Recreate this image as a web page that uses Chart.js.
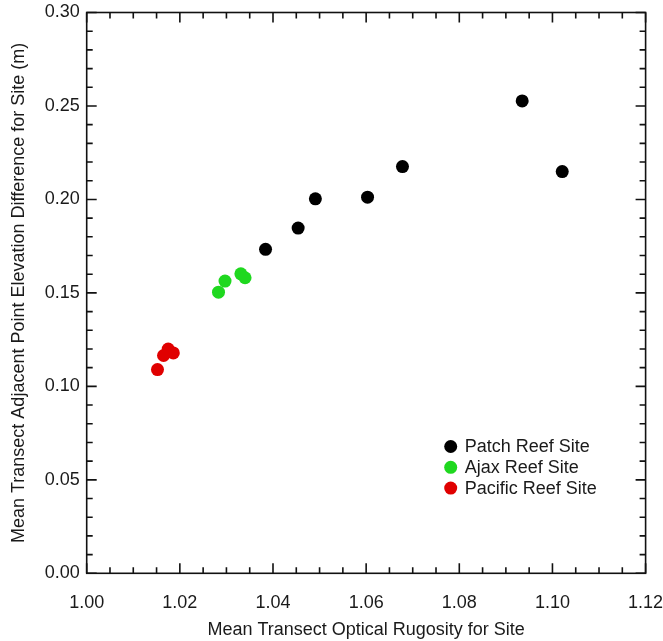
<!DOCTYPE html>
<html>
<head>
<meta charset="utf-8">
<script src="https://cdn.jsdelivr.net/npm/chart.js@4.4.1/dist/chart.umd.min.js"></script>
<style>
  html, body { margin: 0; padding: 0; background: #fff; }
  #wrap { width: 663px; height: 641px; }
</style>
</head>
<body>
<div id="wrap"><canvas id="chart" width="663" height="641"></canvas></div>
<script>
// values
const seriesNames = ["Patch Reef Site", "Ajax Reef Site", "Pacific Reef Site"];
const seriesColors = ["#000000", "#1fd81f", "#e00000"];

const patchX = [1.0384, 1.0454, 1.0491, 1.0603, 1.0678, 1.0935, 1.1021];
const patchY = [0.1733, 0.1847, 0.2003, 0.2012, 0.2176, 0.2527, 0.2149];

const ajaxX = [1.0283, 1.0297, 1.0331, 1.0340];
const ajaxY = [0.1504, 0.1563, 0.1602, 0.1581];

const pacificX = [1.0152, 1.0165, 1.0175, 1.0186];
const pacificY = [0.1090, 0.1165, 0.1200, 0.1179];

const xTicks = [1.00, 1.02, 1.04, 1.06, 1.08, 1.10, 1.12];
const yTicks = [0.00, 0.05, 0.10, 0.15, 0.20, 0.25, 0.30];

const FONT = "'Liberation Sans', Arial, Helvetica, sans-serif";

const toPoints = (xs, ys) => xs.map((x, i) => ({ x: x, y: ys[i] }));

const seriesData = [
    toPoints(patchX, patchY),
    toPoints(ajaxX, ajaxY),
    toPoints(pacificX, pacificY),
];

// box with inward ticks on all four sides, IDL style
const framePlugin = {
    id: "frame",
    afterDraw(chart) {
        const ctx = chart.ctx;
        const area = chart.chartArea;
        const xs = chart.scales.x;
        const ys = chart.scales.y;

        ctx.save();
        ctx.strokeStyle = "#111";
        ctx.lineWidth = 1.6;
        ctx.strokeRect(area.left, area.top, area.right - area.left, area.bottom - area.top);

        ctx.beginPath();
        // x: minor every 0.005, major every 0.02
        for (let i = 0; i <= 24; i++) {
            const v = xTicks[0] + i * 0.005;
            const px = xs.getPixelForValue(v);
            const len = (i % 4 === 0) ? 10 : 6;
            ctx.moveTo(px, area.bottom);
            ctx.lineTo(px, area.bottom - len);
            ctx.moveTo(px, area.top);
            ctx.lineTo(px, area.top + len);
        }
        // y: minor every 0.01, major every 0.05
        for (let i = 0; i <= 30; i++) {
            const v = i * 0.01;
            const py = ys.getPixelForValue(v);
            const len = (i % 5 === 0) ? 10 : 6;
            ctx.moveTo(area.left, py);
            ctx.lineTo(area.left + len, py);
            ctx.moveTo(area.right, py);
            ctx.lineTo(area.right - len, py);
        }
        ctx.stroke();
        ctx.restore();
    }
};

// legend drawn inside the plot, lower right
const legendPlugin = {
    id: "insideLegend",
    afterDraw(chart) {
        const ctx = chart.ctx;
        const area = chart.chartArea;
        const x0 = area.left + 364;
        const y0 = area.top + 434;
        ctx.save();
        ctx.font = "18px " + FONT;
        ctx.textBaseline = "middle";
        ctx.textAlign = "left";
        chart.data.datasets.forEach((ds, i) => {
            const y = y0 + i * 20.8;
            ctx.beginPath();
            ctx.arc(x0, y, 6.5, 0, Math.PI * 2);
            ctx.fillStyle = ds.backgroundColor;
            ctx.fill();
            ctx.fillStyle = "#1a1a1a";
            ctx.fillText(ds.label, x0 + 14, y + 1);
        });
        ctx.restore();
    }
};

new Chart(document.getElementById("chart").getContext("2d"), {
    type: "scatter",
    data: {
        datasets: seriesNames.map((name, i) => ({
            label: name,
            data: seriesData[i],
            backgroundColor: seriesColors[i],
            borderColor: seriesColors[i],
            borderWidth: 0,
            pointRadius: 6.5,
            pointHoverRadius: 6.5,
        }))
    },
    options: {
        responsive: false,
        animation: false,
        layout: { padding: { top: 12.5, right: 17.4, left: 0, bottom: 0 } },
        plugins: {
            legend: { display: false },
            tooltip: { enabled: false },
        },
        scales: {
            x: {
                type: "linear",
                min: 1.00,
                max: 1.12,
                afterBuildTicks: (scale) => { scale.ticks = xTicks.map(v => ({ value: v })); },
                afterFit: (scale) => {
                    scale.height = 67.7;
                    scale.paddingLeft = 0;
                    scale.paddingRight = 0;
                },
                grid: { display: false, drawTicks: false },
                border: { display: false },
                ticks: {
                    padding: 19,
                    color: "#1a1a1a",
                    font: { family: FONT, size: 18 },
                    maxRotation: 0,
                    callback: (v) => v.toFixed(2),
                },
                title: {
                    display: true,
                    text: "Mean Transect Optical Rugosity for Site",
                    color: "#1a1a1a",
                    font: { family: FONT, size: 18 },
                    padding: { top: 0, bottom: 0 },
                },
            },
            y: {
                type: "linear",
                min: 0,
                max: 0.30,
                afterBuildTicks: (scale) => { scale.ticks = yTicks.map(v => ({ value: v })); },
                afterFit: (scale) => {
                    scale.width = 86.7;
                    scale.paddingTop = 0;
                    scale.paddingBottom = 0;
                },
                grid: { display: false, drawTicks: false },
                border: { display: false },
                ticks: {
                    padding: 7,
                    color: "#1a1a1a",
                    font: { family: FONT, size: 18 },
                    callback: (v) => v.toFixed(2),
                },
                title: {
                    display: true,
                    text: "Mean Transect Adjacent Point Elevation Difference for Site (m)",
                    color: "#1a1a1a",
                    font: { family: FONT, size: 18 },
                    padding: { top: 8, bottom: 0 },
                },
            },
        },
    },
    plugins: [framePlugin, legendPlugin],
});
</script>
</body>
</html>
